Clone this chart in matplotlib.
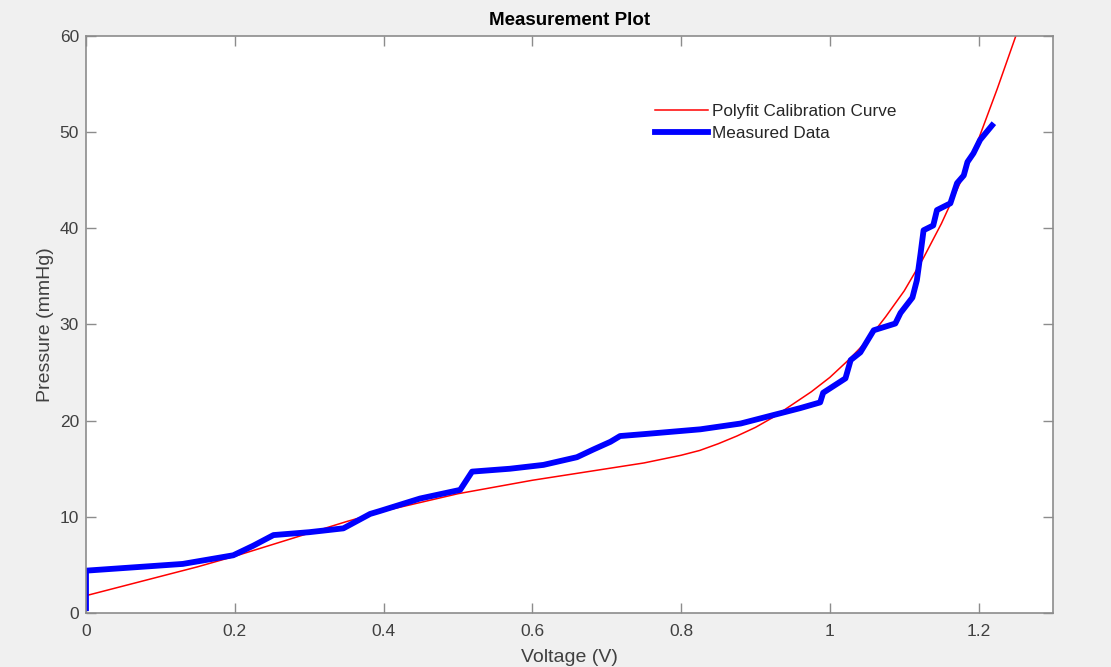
import numpy as np
import matplotlib
matplotlib.use("Agg")
import matplotlib.pyplot as plt

plt.rcParams['font.family'] = ['Liberation Sans', 'DejaVu Sans']

# polyfit calibration curve
fit_v = [0.0, 0.05, 0.1, 0.15, 0.2, 0.25, 0.3, 0.35, 0.4, 0.45, 0.5, 0.55, 0.6,
         0.65, 0.7, 0.75, 0.775, 0.8, 0.825, 0.85, 0.875, 0.9, 0.925, 0.95, 0.975,
         1.0, 1.025, 1.05, 1.075, 1.1, 1.125, 1.15, 1.175, 1.2, 1.225, 1.25]
fit_p = [1.8, 2.8, 3.8, 4.8, 5.9, 7.1, 8.3, 9.5, 10.6, 11.5, 12.4, 13.1, 13.8,
         14.4, 15.0, 15.6, 16.0, 16.4, 16.9, 17.6, 18.4, 19.3, 20.4, 21.7, 23.0,
         24.5, 26.3, 28.3, 30.8, 33.5, 36.8, 40.5, 44.7, 49.3, 54.5, 60.0]

# measured data
meas_v = [0.0, 0.0, 0.13, 0.198, 0.225, 0.252, 0.3, 0.346, 0.382, 0.395, 0.449, 0.503,
          0.519, 0.57, 0.615, 0.66, 0.682, 0.705, 0.718, 0.75, 0.826, 0.88, 0.96, 0.987,
          0.991, 1.021, 1.028, 1.041, 1.059, 1.088, 1.095, 1.111, 1.117, 1.122, 1.126,
          1.139, 1.144, 1.162, 1.171, 1.18, 1.185, 1.193, 1.202, 1.218]
meas_p = [0.5, 4.4, 5.1, 6.0, 7.0, 8.1, 8.4, 8.8, 10.3, 10.6, 11.9, 12.8,
          14.7, 15.0, 15.4, 16.2, 17.0, 17.8, 18.4, 18.6, 19.1, 19.7, 21.3, 21.9,
          22.9, 24.4, 26.3, 27.1, 29.4, 30.1, 31.2, 32.8, 34.6, 37.4, 39.8,
          40.3, 41.9, 42.6, 44.7, 45.5, 46.9, 47.8, 49.2, 50.7]

grey = '#404040'
axcol = '#8c8c8c'

fig = plt.figure(figsize=(11.11, 6.67), dpi=100, facecolor='#f0f0f0')
ax = fig.add_axes([0.0774, 0.081, 0.8704, 0.865])
ax.set_facecolor('white')

ax.plot(fit_v, fit_p, color='#ff0000', linewidth=1.1, label='Polyfit Calibration Curve')
ax.plot(meas_v, meas_p, color='#0000ff', linewidth=4.2, solid_joinstyle='round',
        label='Measured Data')

ax.set_xlim(0, 1.3)
ax.set_ylim(0, 60)
ax.set_xticks([0, 0.2, 0.4, 0.6, 0.8, 1, 1.2])
ax.set_xticklabels(['0', '0.2', '0.4', '0.6', '0.8', '1', '1.2'])
ax.set_yticks([0, 10, 20, 30, 40, 50, 60])

ax.tick_params(direction='in', top=True, right=True, length=7, width=1,
               color=axcol, labelcolor=grey, labelsize=12.5)
ax.tick_params(axis='x', pad=8)
ax.tick_params(axis='y', pad=5)
for s in ax.spines.values():
    s.set_color(axcol)
    s.set_linewidth(1.2)

ax.set_xlabel('Voltage (V)', fontsize=14, color=grey, labelpad=7)
ax.set_ylabel('Pressure (mmHg)', fontsize=14, color=grey, labelpad=4)
ax.set_title('Measurement Plot', fontsize=13.5, fontweight='bold', color='black', pad=8)

leg = ax.legend(loc='upper left', bbox_to_anchor=(0.588, 0.883), frameon=False,
                fontsize=12.3, handlelength=3.1, handletextpad=0.25, labelspacing=0.45,
                borderaxespad=0, borderpad=0)
for t in leg.get_texts():
    t.set_color('#262626')

fig.savefig('out.png', dpi=100, facecolor=fig.get_facecolor())
